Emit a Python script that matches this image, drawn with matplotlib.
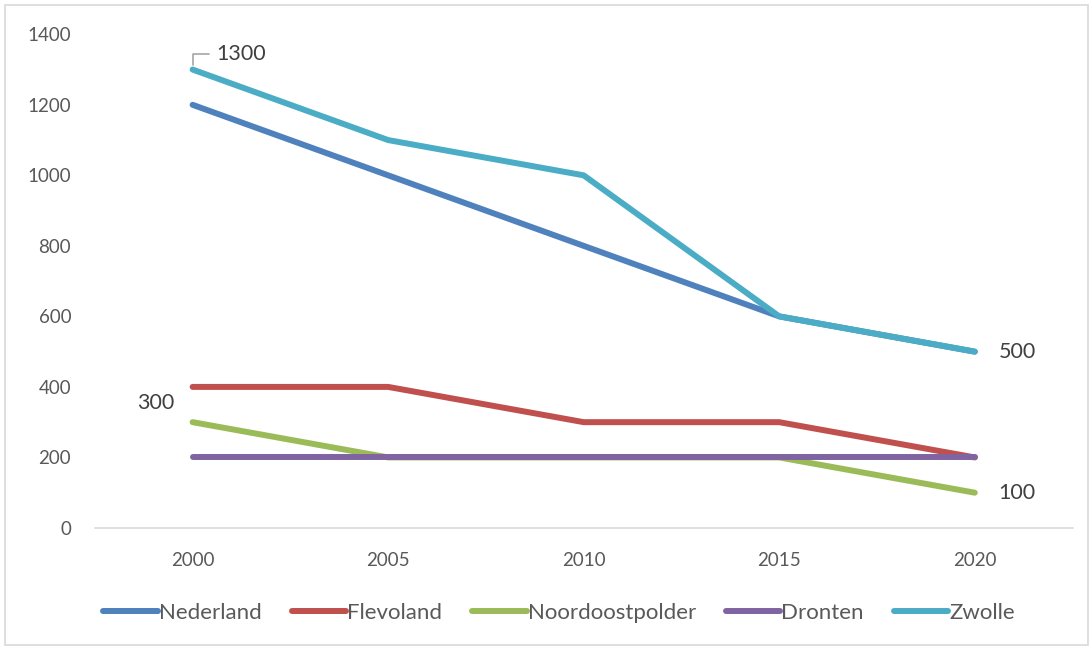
import matplotlib
matplotlib.use("Agg")
import matplotlib.pyplot as plt
from matplotlib.patches import Rectangle

years = ["2000", "2005", "2010", "2015", "2020"]
nederland = [1200, 1000, 800, 600, 500]
flevoland = [400, 400, 300, 300, 200]
noordoostpolder = [300, 200, 200, 200, 100]
dronten = [200, 200, 200, 200, 200]
zwolle = [1300, 1100, 1000, 600, 500]

series = [
    ("Nederland", nederland, "#4F81BD"),
    ("Flevoland", flevoland, "#C0504D"),
    ("Noordoostpolder", noordoostpolder, "#9BBB59"),
    ("Dronten", dronten, "#8064A2"),
    ("Zwolle", zwolle, "#4BACC6"),
]

plt.rcParams['font.family'] = ['Lato', 'DejaVu Sans']
txt = "#595959"

fig = plt.figure(figsize=(10.9, 6.47), dpi=100)
ax = fig.add_axes([0.087, 0.184, 0.897, 0.763])

x = list(range(len(years)))
for name, vals, col in series:
    ax.plot(x, vals, color=col, lw=4.3, solid_capstyle='round', label=name)

ax.set_xlim(-0.5, len(years) - 0.5)
ax.set_ylim(0, 1400)
ax.set_yticks(range(0, 1401, 200))
ax.set_xticks(x)
ax.set_xticklabels(years)
for s in ["top", "right", "left"]:
    ax.spines[s].set_visible(False)
ax.spines["bottom"].set_color("#D9D9D9")
ax.spines["bottom"].set_linewidth(1.2)
ax.tick_params(axis='both', length=0, labelsize=13.5, colors=txt)
ax.tick_params(axis='x', pad=17)
ax.tick_params(axis='y', pad=17)

# data labels
lab = dict(fontsize=15.5, color="#404040", va='center')
ax.annotate(str(zwolle[0]), xy=(0, zwolle[0]), xytext=(17, 11), textcoords='offset points',
            ha='left',
            arrowprops=dict(arrowstyle='-', color='#A6A6A6', lw=1.2,
                            connectionstyle='angle,angleA=0,angleB=90,rad=0',
                            shrinkA=3, shrinkB=3), **lab)
ax.annotate(str(noordoostpolder[0]), xy=(0, noordoostpolder[0]), xytext=(-13, 14),
            textcoords='offset points', ha='right', **lab)
ax.annotate(str(zwolle[-1]), xy=(4, zwolle[-1]), xytext=(17, 0),
            textcoords='offset points', ha='left', **lab)
ax.annotate(str(noordoostpolder[-1]), xy=(4, noordoostpolder[-1]), xytext=(17, 0),
            textcoords='offset points', ha='left', **lab)

leg = fig.legend(loc='center', bbox_to_anchor=(0.513, 0.053), ncol=5, frameon=False,
                 fontsize=16, handlelength=2.45, handletextpad=0.05, columnspacing=1.35)
for t in leg.get_texts():
    t.set_color(txt)

fig.patches.append(Rectangle((5 / 1090, 2 / 647), 1083 / 1090, 640 / 647,
                             transform=fig.transFigure, fill=False,
                             edgecolor="#D9D9D9", lw=1.2))

fig.savefig("out.png", dpi=100)
